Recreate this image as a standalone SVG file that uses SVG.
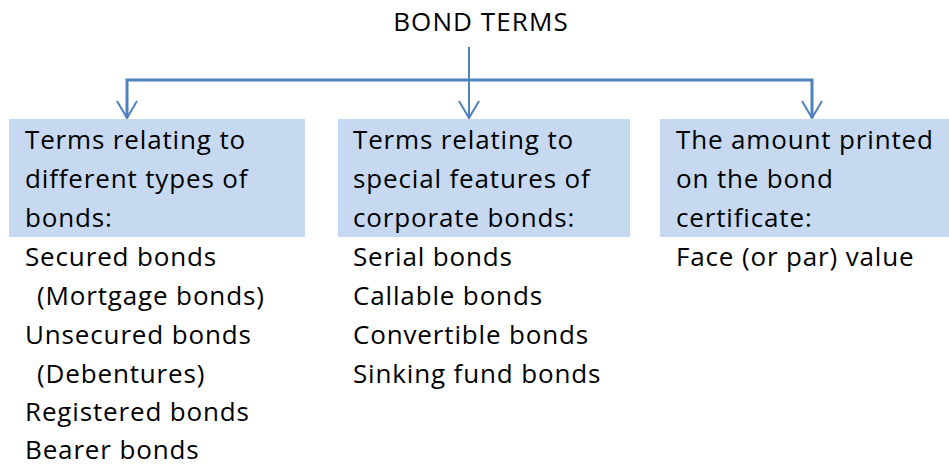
<svg xmlns="http://www.w3.org/2000/svg" width="949" height="466" viewBox="0 0 949 466">
<style>
.t{font-family:"Open Sans",Lato,sans-serif;font-size:26px;letter-spacing:0.85px;fill:#000}
.box{fill:#C6D9F1}
.ln{stroke:#4F81BD;fill:none}
</style>
<rect width="949" height="466" fill="#fff"/>
<g id="title"><text class="t" x="481" y="31" text-anchor="middle" style="letter-spacing:1.1px">BOND TERMS</text></g>
<g id="connectors">
<line class="ln" x1="469" y1="47" x2="469" y2="118" stroke-width="2"/>
<polyline class="ln" points="127,118 127,80 812,80 812,118" stroke-width="3" stroke-linejoin="miter"/>
<path class="ln" d="M117,101 L127,118 L137,101 M459,101 L469,118 L479,101 M802,101 L812,118 L822,101" stroke-width="2"/>
</g>
<g id="node-types">
<rect class="box" x="9" y="119" width="296" height="118"/>
<text class="t" x="25" y="149">Terms relating to</text>
<text class="t" x="25" y="188">different types of</text>
<text class="t" x="25" y="227">bonds:</text>
<text class="t" x="25" y="266">Secured bonds</text>
<text class="t" x="37" y="305">(Mortgage bonds)</text>
<text class="t" x="25" y="344">Unsecured bonds</text>
<text class="t" x="37" y="383">(Debentures)</text>
<text class="t" x="25" y="421">Registered bonds</text>
<text class="t" x="25" y="459">Bearer bonds</text>
</g>
<g id="node-features">
<rect class="box" x="338" y="119" width="292" height="118"/>
<text class="t" x="353" y="149">Terms relating to</text>
<text class="t" x="353" y="188">special features of</text>
<text class="t" x="353" y="227">corporate bonds:</text>
<text class="t" x="353" y="266">Serial bonds</text>
<text class="t" x="353" y="305">Callable bonds</text>
<text class="t" x="353" y="344">Convertible bonds</text>
<text class="t" x="353" y="383">Sinking fund bonds</text>
</g>
<g id="node-face">
<rect class="box" x="660" y="119" width="289" height="118"/>
<text class="t" x="676" y="149">The amount printed</text>
<text class="t" x="676" y="188">on the bond</text>
<text class="t" x="676" y="227">certificate:</text>
<text class="t" x="676" y="266">Face (or par) value</text>
</g>
</svg>
